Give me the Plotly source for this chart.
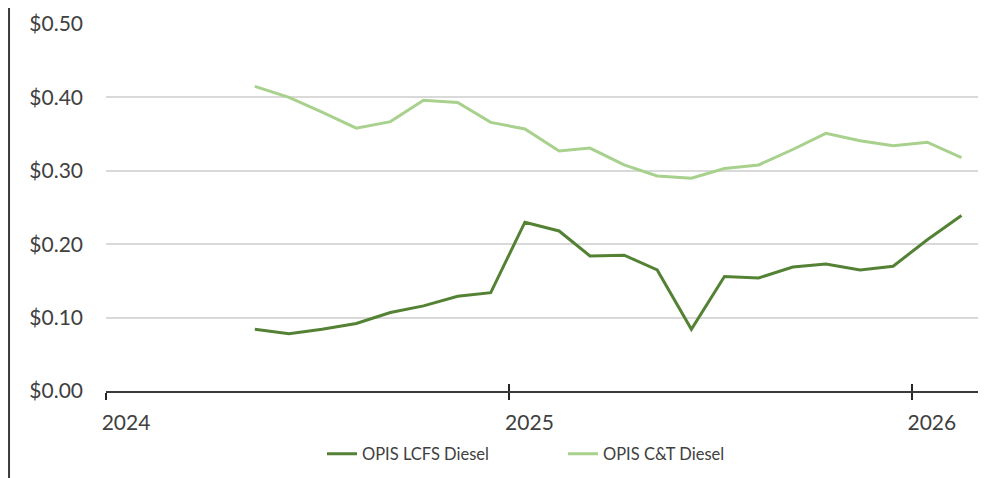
import plotly.graph_objects as go

# monthly prices, May 2024 - Feb 2026 (mid-month points)
months = [
    "2024-05-15", "2024-06-15", "2024-07-15", "2024-08-15", "2024-09-15", "2024-10-15",
    "2024-11-15", "2024-12-15", "2025-01-15", "2025-02-15", "2025-03-15", "2025-04-15",
    "2025-05-15", "2025-06-15", "2025-07-15", "2025-08-15", "2025-09-15", "2025-10-15",
    "2025-11-15", "2025-12-15", "2026-01-15", "2026-02-15",
]
lcfs_diesel = [
    0.084, 0.078, 0.084, 0.092, 0.107, 0.116, 0.129, 0.134, 0.230, 0.218, 0.184,
    0.185, 0.165, 0.084, 0.156, 0.154, 0.169, 0.173, 0.165, 0.170, 0.206, 0.239,
]
ct_diesel = [
    0.415, 0.400, 0.380, 0.358, 0.367, 0.396, 0.393, 0.366, 0.357, 0.327, 0.331,
    0.308, 0.293, 0.290, 0.303, 0.308, 0.329, 0.351, 0.341, 0.334, 0.339, 0.318,
]
year_ticks = ["2024-01-01", "2025-01-01", "2026-01-01"]
year_labels = ["2024", "2025", "2026"]

DARK_GREEN = "#548235"
LIGHT_GREEN = "#A9D18E"
TEXT = "#404040"
FONT = "Lato"

fig = go.Figure()

fig.add_trace(go.Scatter(
    x=months, y=lcfs_diesel, mode="lines", name="OPIS LCFS Diesel",
    line=dict(color=DARK_GREEN, width=3),
))
fig.add_trace(go.Scatter(
    x=months, y=ct_diesel, mode="lines", name="OPIS C&T Diesel",
    line=dict(color=LIGHT_GREEN, width=3),
))

x_range = ["2024-01-01", "2026-03-02"]

# page body has an 8px margin, so the figure is a little smaller than the window
fig.update_layout(
    width=989,
    height=470,
    margin=dict(l=98, r=19, t=16, b=87, autoexpand=False),
    paper_bgcolor="white",
    plot_bgcolor="white",
    font=dict(family=FONT, color=TEXT),
    showlegend=True,
    legend=dict(
        orientation="h",
        x=0.2477, xanchor="left",
        y=-0.172, yanchor="middle",
        font=dict(size=16.5, color=TEXT),
        entrywidth=196,
        bgcolor="rgba(0,0,0,0)",
    ),
    xaxis=dict(
        type="date",
        range=x_range,
        tickvals=year_ticks,
        ticktext=year_labels,
        ticks="outside",
        ticklen=7,
        tickwidth=2,
        tickcolor="#262626",
        showline=True,
        linecolor="#3a3a3a",
        linewidth=2,
        showgrid=False,
        zeroline=False,
        automargin=False,
        tickfont=dict(size=21, color=TEXT),
        ticklabelshift=20,
        ticklabelstandoff=5,
    ),
    xaxis2=dict(
        type="date",
        range=x_range,
        overlaying="x",
        anchor="y",
        side="bottom",
        tickvals=year_ticks,
        ticks="inside",
        ticklen=7,
        tickwidth=2,
        tickcolor="#262626",
        showticklabels=False,
        showgrid=False,
        showline=False,
        zeroline=False,
        automargin=False,
    ),
    yaxis=dict(
        range=[0, 0.5],
        dtick=0.1,
        tickformat="$.2f",
        showgrid=True,
        gridcolor="#D9D9D9",
        gridwidth=1.5,
        zeroline=False,
        showline=False,
        ticks="",
        automargin=False,
        tickfont=dict(size=21, color=TEXT),
        ticklabelstandoff=22,
    ),
    shapes=[dict(
        type="line", xref="paper", yref="paper",
        x0=-0.1112, x1=-0.1112, y0=-0.237, y1=1.0436,
        line=dict(color="#3a3a3a", width=2),
    )],
)

# invisible trace so the second axis (crossing tick marks) is drawn
fig.add_trace(go.Scatter(x=[months[0]], y=[None], xaxis="x2", showlegend=False, hoverinfo="skip"))

fig.write_html("out.html")
